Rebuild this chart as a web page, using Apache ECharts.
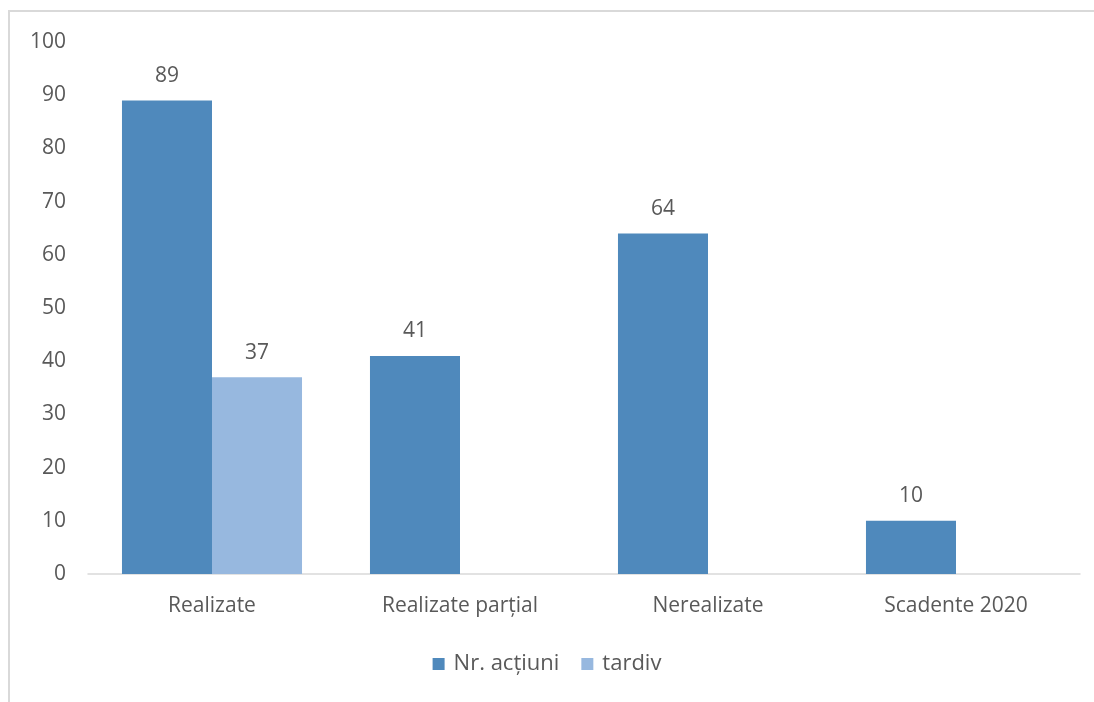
<!DOCTYPE html>
<html>
<head>
<meta charset="utf-8">
<script src="https://cdn.jsdelivr.net/npm/echarts@6/dist/echarts.min.js"></script>
<style>
html,body{margin:0;padding:0;background:#fff;}
#c{width:1094px;height:702px;}
</style>
</head>
<body>
<div id="c"></div>
<script>
const categories = ['Realizate', 'Realizate parțial', 'Nerealizate', 'Scadente 2020'];
const seriesNames = ['Nr. acțiuni', 'tardiv'];
const nrActiuni = [89, 41, 64, 10];
const tardiv = [37, null, null, null];
const yTicks = [0, 100, 10];

const font = '"Open Sans", "Noto Sans", sans-serif';
const txt = '#595959';
const chart = echarts.init(document.getElementById('c'), null, {renderer: 'canvas'});
chart.setOption({
  animation: false,
  backgroundColor: '#fff',
  graphic: [{
    type: 'rect', shape: {x: 9, y: 11, width: 1200, height: 800},
    style: {fill: 'none', stroke: '#d9d9d9', lineWidth: 2}, silent: true
  }],
  grid: {left: 88, right: 14, top: 42, bottom: 128, containLabel: false},
  legend: {
    data: seriesNames, bottom: 22, left: 'center',
    itemWidth: 12, itemHeight: 12, itemGap: 22, icon: 'rect',
    textStyle: {color: txt, fontSize: 22, fontFamily: font, padding: [0, 0, 0, 4]}
  },
  xAxis: {
    type: 'category', data: categories,
    axisLine: {lineStyle: {color: '#d9d9d9', width: 1.5}},
    axisTick: {show: false},
    axisLabel: {color: txt, fontSize: 21, fontFamily: font, margin: 22}
  },
  yAxis: {
    type: 'value', min: yTicks[0], max: yTicks[1], interval: yTicks[2],
    axisLine: {show: false}, axisTick: {show: false}, splitLine: {show: false},
    axisLabel: {color: txt, fontSize: 21, fontFamily: font, margin: 22}
  },
  series: [
    {name: seriesNames[0], type: 'bar', data: nrActiuni, barGap: '0%', barCategoryGap: '27.4%',
     itemStyle: {color: '#4F89BC'},
     label: {show: true, position: 'top', distance: 14, color: txt, fontSize: 21, fontFamily: font}},
    {name: seriesNames[1], type: 'bar', data: tardiv,
     itemStyle: {color: '#97B8DF'},
     label: {show: true, position: 'top', distance: 14, color: txt, fontSize: 21, fontFamily: font}}
  ]
});
</script>
</body>
</html>
